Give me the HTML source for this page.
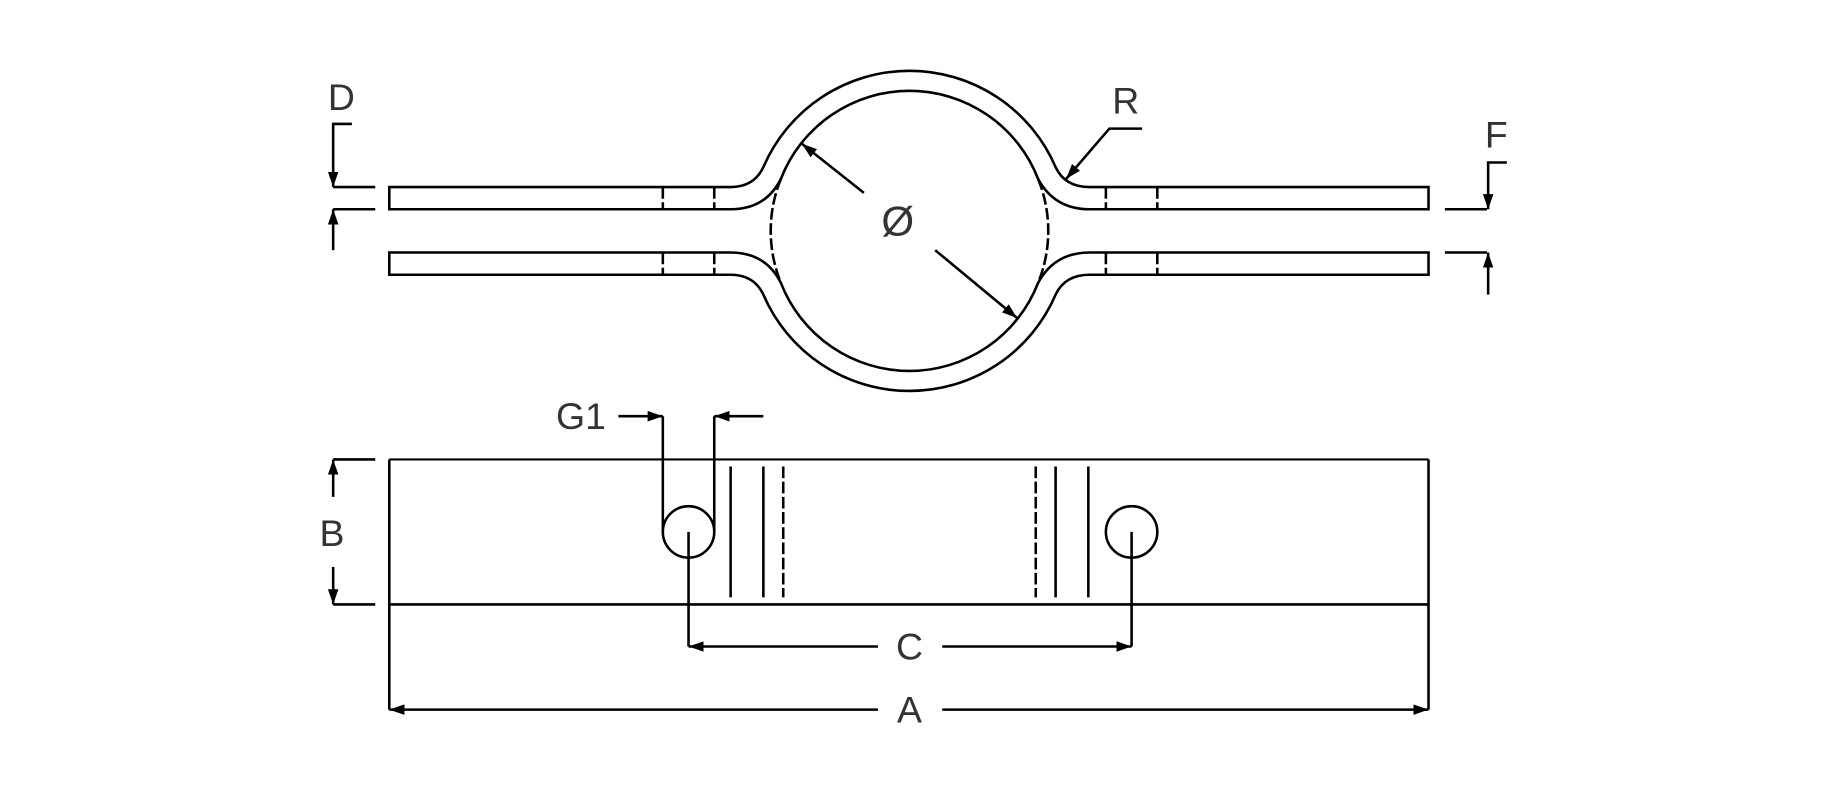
<!DOCTYPE html>
<html><head><meta charset="utf-8"><style>
html,body{margin:0;padding:0;background:#fff;}
svg{display:block;}
text{font-family:"Liberation Sans","DejaVu Sans",sans-serif;fill:#333;font-size:32px;text-anchor:middle;dominant-baseline:central;}
</style></head><body>
<svg width="1833" height="800" viewBox="0 0 1568 684.3" preserveAspectRatio="none" xmlns="http://www.w3.org/2000/svg">
<defs>
<marker id="a" viewBox="0 0 13 9" refX="13" refY="4.5" markerWidth="13" markerHeight="9" markerUnits="userSpaceOnUse" orient="auto">
<path d="M0,0 L13,4.5 L0,9 Z" fill="#000"/></marker>
</defs>
<g fill="none" stroke="#000" stroke-width="2.2">
<path d="M333,160 H625 Q645,160 653,143 A136,136 0 0 1 903,143 Q911,160 932,160 H1222 V179 H932 Q902,179 888,153 A118,118 0 0 0 668,153 Q655,179 625,179 H333 Z"/>
<path d="M333,235 H625 Q645,235 653,252 A136,136 0 0 0 903,252 Q911,235 932,235 H1222 V216 H932 Q902,216 888,242 A118,118 0 0 1 668,242 Q655,216 625,216 H333 Z"/>
<g stroke-dasharray="10,3">
<path d="M668,153 A118,118 0 0 0 668,242"/>
<path d="M888,153 A118,118 0 0 1 888,242"/>
<path d="M567,160V179M611,160V179M946,160V179M990,160V179M567,216V235M611,216V235M946,216V235M990,216V235"/>
<path d="M670,399V511M886,399V511"/>
</g>
<path d="M739,165 L686,123" marker-end="url(#a)"/>
<path d="M800,214 L870,272" marker-end="url(#a)"/>
<path d="M977,110 H949 L912,153" marker-end="url(#a)"/>
<path d="M301,106 H285 V160" marker-end="url(#a)"/>
<path d="M285,160H321M285,179H321"/>
<path d="M285,214 V179" marker-end="url(#a)"/>
<path d="M1289,139 H1273 V179" marker-end="url(#a)"/>
<path d="M1236,179H1272M1236,216H1272"/>
<path d="M1273,252 V216" marker-end="url(#a)"/>
<path d="M333,393H1222" stroke-width="1.8"/>
<path d="M333,517H1222M333,393V607M1222,393V607"/>
<path d="M625,399V511M653,399V511M903,399V511M931,399V511"/>
<circle cx="589" cy="455" r="22"/>
<circle cx="968" cy="455" r="22"/>
<path d="M589,455V553M968,455V553"/>
<path d="M751,553 H589" marker-end="url(#a)"/>
<path d="M806,553 H968" marker-end="url(#a)"/>
<path d="M751,607 H333" marker-end="url(#a)"/>
<path d="M806,607 H1222" marker-end="url(#a)"/>
<path d="M567,455V356M611,455V356"/>
<path d="M529,356 H567" marker-end="url(#a)"/>
<path d="M653,356 H611" marker-end="url(#a)"/>
<path d="M285,425 V393" marker-end="url(#a)"/>
<path d="M285,393H321M285,517H321"/>
<path d="M285,485 V517" marker-end="url(#a)"/>
</g>
<text x="768" y="189" style="font-size:36px">Ø</text>
<text x="963" y="86">R</text>
<text x="292" y="83">D</text>
<text x="1280" y="115">F</text>
<text x="497" y="356">G1</text>
<text x="284" y="456">B</text>
<text x="778" y="553">C</text>
<text x="778" y="607">A</text>
</svg>
</body></html>
